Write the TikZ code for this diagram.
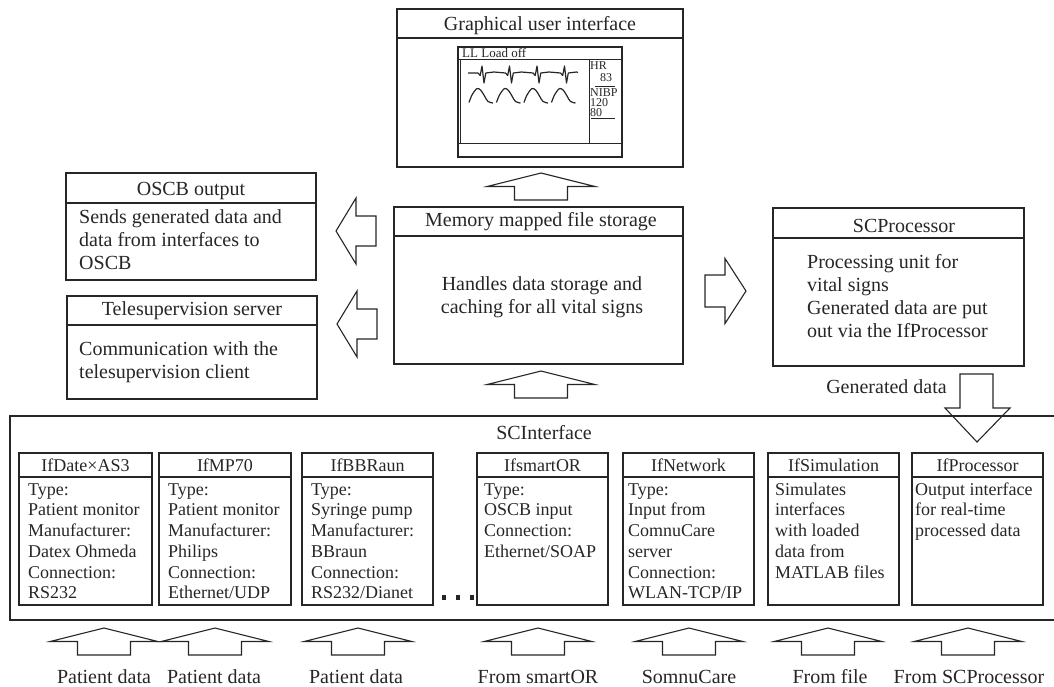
\documentclass[tikz,border=0pt]{standalone}
\usepackage{fontspec}
\setmainfont{Liberation Serif}
\usetikzlibrary{calc}
\definecolor{ink}{gray}{0.15}

\tikzset{
  box/.style={draw=ink, line width=1.1pt, inner sep=0pt, outer sep=0pt, anchor=north west},
  hdr/.style={draw=ink, line width=1.1pt},
  big/.style={font=\fontsize{20}{23}\selectfont, text=ink, inner sep=0pt},
  small/.style={font=\fontsize{18}{20.7}\selectfont, text=ink, inner sep=0pt},
  tiny/.style={font=\fontsize{12}{14}\selectfont, text=ink, inner sep=0pt},
  blockarrow/.style={draw=ink, line width=1.1pt, fill=white, line join=miter},
  wave/.style={draw=ink, line width=1.2pt, line join=round},
  % upward block arrow, tip at the origin
  uparr/.pic={\path[blockarrow] (0,0) -- (54,13.5) -- (26.5,13.5) -- (26.5,27)
      -- (-26.5,27) -- (-26.5,13.5) -- (-54,13.5) -- cycle;},
  % leftward block arrow, tip at the origin
  leftarr/.pic={\path[blockarrow] (0,0) -- (20,-33) -- (20,-15) -- (40,-15)
      -- (40,15) -- (20,15) -- (20,33) -- cycle;},
  % rightward block arrow, tip at the origin
  rightarr/.pic={\path[blockarrow] (0,0) -- (-21,-32.5) -- (-21,-16) -- (-41,-16)
      -- (-41,16) -- (-21,16) -- (-21,32.5) -- cycle;},
}

% box with a title strip: name, x, y, width, height, strip height
\newcommand\titledbox[6]{%
  \node[box, minimum width=#4pt, minimum height=#5pt] (#1) at (#2,#3) {};
  \draw[hdr] ([yshift=-#6pt]#1.north west) -- ([yshift=-#6pt]#1.north east);
}

\begin{document}
\begin{tikzpicture}[x=1pt, y=-1pt]
\useasboundingbox (0,0) rectangle (1054,686);

% ---------------- graphical user interface ----------------
\titledbox{gui}{397}{9}{286}{158}{29}
\node[big, anchor=base] (guititle) at (540,30) {Graphical user interface};
\node[box, minimum width=164pt, minimum height=110pt] (screen) at (458,47) {};
\draw[hdr, line width=0.9pt] (458,59) -- (622,59);
\draw[hdr, line width=0.9pt] (458,143) -- (622,143);
\draw[hdr, line width=0.9pt] (460.5,59) -- (460.5,143);
\draw[hdr, line width=0.9pt] (589,59) -- (589,143);
\node[tiny, font=\fontsize{13}{14}\selectfont, anchor=base west] (loadoff) at (462,57.5) {LL Load off};
\node[tiny, anchor=base west] (hr) at (590,69.3) {HR};
\node[tiny, anchor=base west] (hrval) at (600,81.7) {83};
\draw[ink, line width=0.9pt] (595,86) -- (615,86);
\node[tiny, anchor=base west] (nibp) at (590,96.7) {NIBP};
\node[tiny, anchor=base west] (sys) at (590,106.7) {120};
\node[tiny, anchor=base west] (dia) at (590,116.7) {80};
\draw[ink, line width=0.9pt] (591,118.5) -- (615,118.5);
% ECG trace
\draw[wave] (468,73)
  \foreach \b in {482,509.5,537,564.5} {
    -- (\b-4,73) -- (\b-1.8,75.5) -- (\b,66) -- (\b+2,83) -- (\b+3.8,73) -- (\b+12,72)
  } -- (578,72.5);
% plethysmographic trace
\foreach \t in {469,496.5,524,551.5} {
  \draw[wave] plot[smooth, tension=0.55] coordinates
    {(\t,102.5) (\t+3,95) (\t+8,88.5) (\t+12,90.5) (\t+15.5,96) (\t+19,101.5) (\t+24,103)};
}

% ---------------- memory mapped file storage ----------------
\titledbox{mem}{394}{207}{289}{157}{29}
\node[big, anchor=base] (memtitle) at (541,226.7) {Memory mapped file storage};
\node[big, align=center, anchor=north] (memtext) at (542,273.9)
  {\strut Handles data storage and\\ caching for all vital signs};

% ---------------- OSCB output ----------------
\titledbox{oscb}{66}{173}{250}{107}{30}
\node[big, anchor=base] (oscbtitle) at (191,195.5) {OSCB output};
\node[big, align=left, anchor=north west] (oscbtext) at (79,207.2)
  {\strut Sends generated data and\\ data from interfaces to\\ OSCB};

% ---------------- telesupervision server ----------------
\titledbox{tele}{67}{296}{250}{103}{29}
\node[big, anchor=base] (teletitle) at (192,315.5) {Telesupervision server};
\node[big, align=left, anchor=north west] (teletext) at (79,338.9)
  {\strut Communication with the\\ telesupervision client};

% ---------------- SCProcessor ----------------
\titledbox{proc}{773}{208}{251}{158}{30}
\node[big, anchor=base] (proctitle) at (904,232) {SCProcessor};
\node[big, align=left, anchor=north west] (proctext) at (807,251.9)
  {\strut Processing unit for\\ vital signs\\ Generated data are put\\ out via the IfProcessor};

% ---------------- SCInterface ----------------
\node[box, minimum width=1046pt, minimum height=204pt] (scif) at (10,416) {};
\node[big, anchor=base] (sciftitle) at (544,439.3) {SCInterface};

% interface boxes: name, left x, width, text inset, title, body
\foreach \n/\x/\w/\i/\ttl/\body in {
  ifdate/19/133/9/{IfDate×AS3}/{Type:\\ Patient monitor\\ Manufacturer:\\ Datex Ohmeda\\ Connection:\\ RS232},
  ifmp/159/132/9/{IfMP70}/{Type:\\ Patient monitor\\ Manufacturer:\\ Philips\\ Connection:\\ Ethernet/UDP},
  ifbb/302/131/9/{IfBBRaun}/{Type:\\ Syringe pump\\ Manufacturer:\\ BBraun\\ Connection:\\ RS232/Dianet},
  ifsmart/477/131/7/{IfsmartOR}/{Type:\\ OSCB input\\ Connection:\\ Ethernet/SOAP},
  ifnet/623/131/5/{IfNetwork}/{Type:\\ Input from\\ ComnuCare\\ server\\ Connection:\\ WLAN-TCP/IP},
  ifsim/768/131/7/{IfSimulation}/{Simulates\\ interfaces\\ with loaded\\ data from\\ MATLAB files},
  ifproc/912/131/3/{IfProcessor}/{Output interface\\ for real-time\\ processed data}} {
  \titledbox{\n}{\x}{453}{\w}{152}{24}
  \node[small, anchor=base] (\n title) at ($(\n.north)+(0,18)$) {\ttl};
  \node[small, align=left, anchor=north west] (\n text) at (\x+\i,480.5) {\strut\body};
}

% ellipsis between the device interfaces
\foreach \d in {441.5,455.5,469.5}
  \fill[ink] (\d,595) rectangle +(4.5,4.5);

% ---------------- block arrows ----------------
\pic at (541,173) {uparr};
\pic at (541,371) {uparr};
\pic at (336,231) {leftarr};
\pic at (337,324) {leftarr};
\pic at (746,291) {rightarr};
\draw[draw=ink, line width=1.1pt, line join=miter]
  (960,374) -- (993,374) -- (993,408) -- (1010,408) -- (977,442)
  -- (945,408) -- (960,408) -- cycle;
\node[big, anchor=base] (gendata) at (886.5,393.3) {Generated data};

% inputs below the interfaces
\foreach \ax/\lx/\lbl [count=\k] in {104/104/Patient data, 215/214/Patient data,
    358/356/Patient data, 538/538/From smartOR, 689/689/SomnuCare,
    828/830/From file, 968/969/From SCProcessor} {
  \pic at (\ax,628) {uparr};
  \node[big, anchor=base] (input\k) at (\lx,683) {\lbl};
}
\end{tikzpicture}
\end{document}
